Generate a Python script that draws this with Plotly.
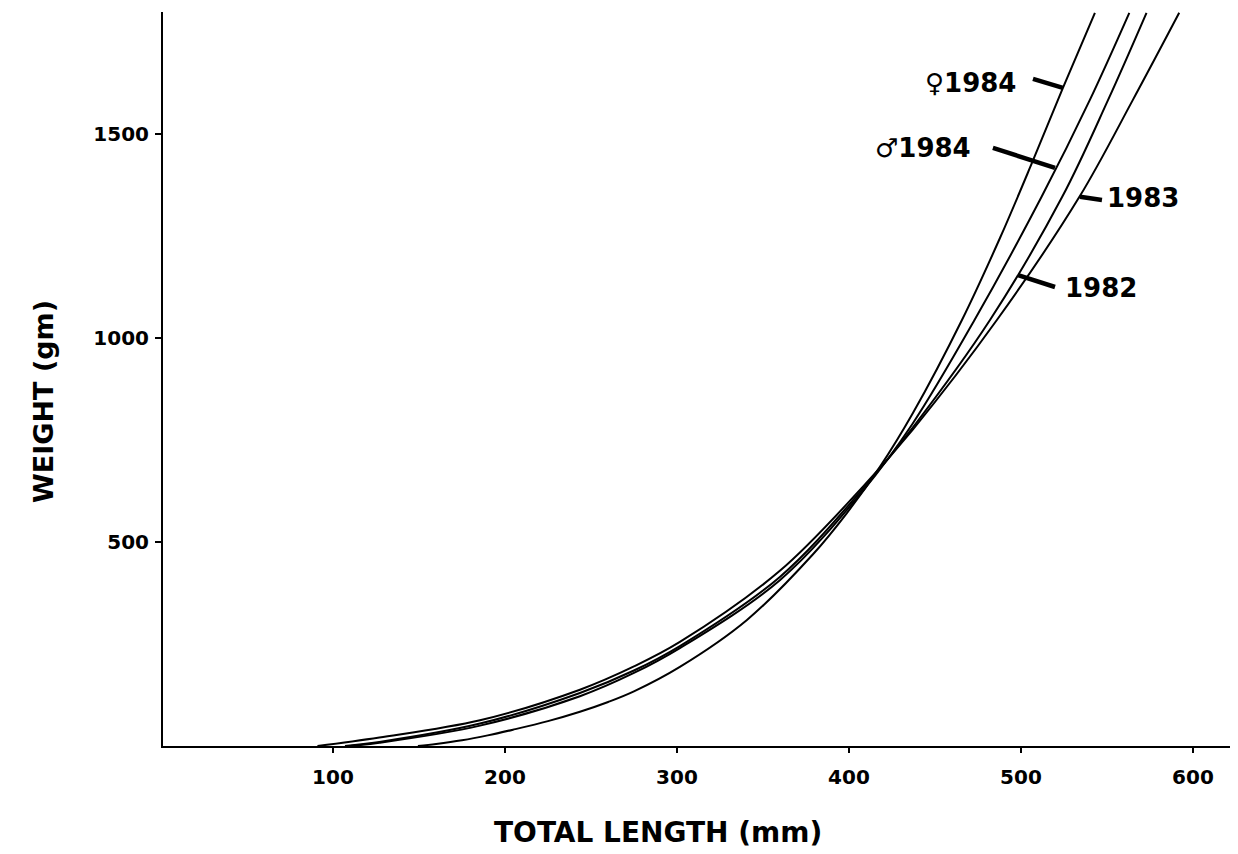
import plotly.graph_objects as go

# ---- data (total length mm -> weight gm) ----
len_f1984 = [149.4, 160, 175, 190, 204.7, 225, 243.6, 260, 275, 301.7, 340.7, 379.1, 398.8, 418.0, 437.2, 465.7, 487.8, 506.4, 524.4, 543.0]
wt_f1984 = [0, 5, 14, 26, 40, 61, 84, 108, 134, 194, 309, 470, 571, 684, 816, 1044, 1245, 1429, 1613, 1797]

len_m1984 = [110, 127, 185.5, 243.6, 275, 301.7, 360, 408, 437, 473, 512, 540, 563]
wt_m1984 = [0, 8, 50, 122, 179, 240, 407, 625, 790, 1044, 1346, 1583, 1797]

len_1982 = [107, 127, 185.5, 243.6, 275, 301.7, 360, 408, 437, 482, 524, 550.6, 573]
wt_1982 = [0, 10, 55, 130, 185, 245, 415, 630, 780, 1044, 1346, 1583, 1797]

len_1983 = [91, 127, 185.5, 243.6, 275, 301.7, 360, 408, 437, 486, 534, 565, 592]
wt_1983 = [0, 21, 63, 138, 195, 255, 430, 635, 775, 1044, 1346, 1583, 1797]

x_ticks = [100, 200, 300, 400, 500, 600]
y_ticks = [500, 1000, 1500]

# curve labels: text, text anchor (x, y), pointer start, pointer end (data units)
label_text = ["\u2640" + "1984", "\u2642" + "1984", "1983", "1982"]
label_xy = [(443, 1625), (414, 1466), (548.8, 1343), (524.4, 1123)]
pointer_from = [(507, 1635), (483.7, 1466), (547.1, 1338), (519.8, 1125)]
pointer_to = [(524.4, 1613), (519.8, 1417), (534.3, 1346), (498.3, 1154)]

series = [
    ("\u2640 1984", len_f1984, wt_f1984),
    ("\u2642 1984", len_m1984, wt_m1984),
    ("1982", len_1982, wt_1982),
    ("1983", len_1983, wt_1983),
]

FONT = "DejaVu Sans"

fig = go.Figure()
for name, xs, ys in series:
    fig.add_trace(go.Scatter(
        x=xs, y=ys, mode="lines", name=name,
        line=dict(color="black", width=2, shape="spline", smoothing=1.0),
        showlegend=False, hoverinfo="skip",
    ))

# pointer strokes
for (x0, y0), (x1, y1) in zip(pointer_from, pointer_to):
    fig.add_trace(go.Scatter(
        x=[x0, x1], y=[y0, y1], mode="lines",
        line=dict(color="black", width=4.5),
        showlegend=False, hoverinfo="skip",
    ))

annotations = []
for txt, (x, y) in zip(label_text, label_xy):
    annotations.append(dict(
        x=x, y=y, xref="x", yref="y", text="<b>" + txt + "</b>",
        showarrow=False, xanchor="left", yanchor="middle",
        font=dict(family=FONT, size=26, color="black"),
    ))

annotations.append(dict(
    x=0.463, y=-0.1185, xref="paper", yref="paper",
    text="<b>TOTAL LENGTH (mm)</b>", showarrow=False,
    xanchor="center", yanchor="middle",
    font=dict(family=FONT, size=28, color="black"),
))
annotations.append(dict(
    x=-0.1123, y=0.47, xref="paper", yref="paper",
    text="<b>WEIGHT (gm)</b>", showarrow=False, textangle=-90,
    xanchor="center", yanchor="middle",
    font=dict(family=FONT, size=27, color="black"),
))

# the page body has an 8px margin, so the figure is drawn 8px smaller/shifted
fig.update_layout(
    width=1230, height=846,
    margin=dict(l=155, r=6, t=4, b=108),
    paper_bgcolor="white", plot_bgcolor="white",
    annotations=annotations,
    xaxis=dict(
        range=[1.2, 622.7], showgrid=False, zeroline=False,
        showline=True, linecolor="black", linewidth=2,
        ticks="outside", ticklen=5, tickwidth=2, tickcolor="black",
        tickvals=x_ticks, ticktext=["<b>%d</b>" % v for v in x_ticks],
        tickfont=dict(family=FONT, size=20, color="black"),
        ticklabelstandoff=7,
    ),
    yaxis=dict(
        range=[0, 1799], showgrid=False, zeroline=False,
        showline=True, linecolor="black", linewidth=2,
        ticks="outside", ticklen=6, tickwidth=2, tickcolor="black",
        tickvals=y_ticks, ticktext=["<b>%d</b>" % v for v in y_ticks],
        tickfont=dict(family=FONT, size=20, color="black"),
        ticklabelstandoff=2,
    ),
)

fig.write_html("out.html")
